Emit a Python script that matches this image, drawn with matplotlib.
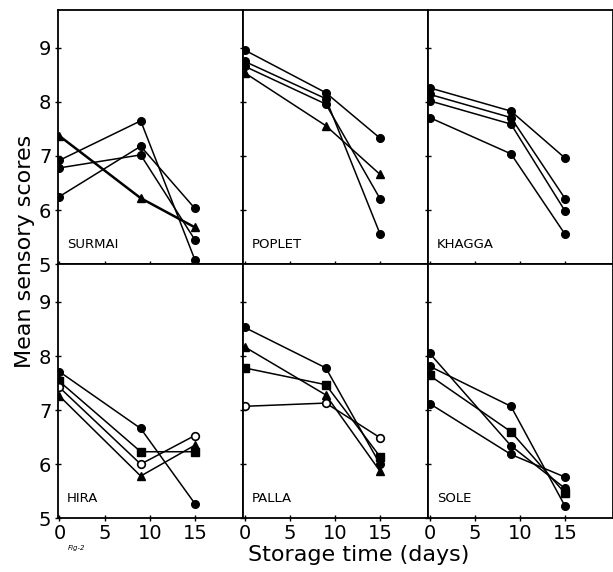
import matplotlib.pyplot as plt

days = [0, 9, 15]

# sensory scores per species, one row per series (day 0, 9, 15)
surmai = [[7.37, 6.22, 5.68], [6.92, 7.65, 5.08], [6.78, 7.02, 5.45], [6.25, 7.18, 6.03]]
poplet = [[8.96, 8.17, 7.33], [8.75, 8.06, 5.56], [8.66, 7.96, 6.21], [8.54, 7.56, 6.66]]
khagga = [[8.26, 7.83, 6.96], [8.14, 7.71, 6.21], [8.02, 7.59, 5.98], [7.71, 7.04, 5.55]]
hira = [[7.71, 6.66, 5.27], [7.26, 5.78, 6.35], [7.53, 6.23, 6.23], [7.42, 6.00, 6.53]]
palla = [[8.53, 7.78, 6.00], [8.17, 7.28, 5.87], [7.78, 7.47, 6.14], [7.07, 7.13, 6.49]]
sole = [[7.81, 7.07, 5.22], [8.05, 6.34, 5.55], [7.64, 6.60, 5.46], [7.12, 6.18, 5.76]]

names = ['SURMAI', 'POPLET', 'KHAGGA', 'HIRA', 'PALLA', 'SOLE']
panels = [surmai, poplet, khagga, hira, palla, sole]

yticks = [5, 6, 7, 8, 9]
xticks = [0, 5, 10, 15]

# marker per series for each panel; 'w' = open circle
marks = [
    ['^', 'o', 'o', 'o'],
    ['o', 'o', 'o', '^'],
    ['o', 'o', 'o', 'o'],
    ['o', '^', 's', 'w'],
    ['o', '^', 's', 'w'],
    ['o', 'o', 's', 'o'],
]

fig, axs = plt.subplots(2, 3, figsize=(6.13, 5.72), dpi=100, sharex=True, sharey=True)
fig.subplots_adjust(left=0.094, right=1.0, top=0.9825, bottom=0.094, wspace=0, hspace=0)

for idx, ax in enumerate(axs.flat):
    for k, series in enumerate(panels[idx]):
        lw = 1.8 if (idx == 0 and k == 0) else 1.1
        m = marks[idx][k]
        if m == 'w':
            ax.plot(days, series, color='black', lw=lw, marker='o', ms=5.5,
                    mfc='white', mec='black', mew=1.2)
        else:
            ax.plot(days, series, color='black', lw=lw, marker=m, ms=5.5,
                    mfc='black', mec='black')
    ax.text(0.8, 5.3, names[idx], fontsize=9.5, color='black')
    ax.set_xlim(-0.2, 20.3)
    ax.set_ylim(5, 9.7)
    ax.set_xticks(xticks)
    ax.set_yticks(yticks)
    ax.tick_params(direction='inout', length=5, width=1, labelsize=14, pad=2)
    for s in ax.spines.values():
        s.set_linewidth(1.3)

for ax in axs[0, :]:
    ax.tick_params(labelbottom=False)
for ax in axs[1, :]:
    ax.set_xticklabels(['0', '5', '10', '15'])
for ax in axs[:, 1:].flat:
    ax.tick_params(labelleft=False)

fig.text(0.04, 0.56, 'Mean sensory scores', rotation=90, ha='center', va='center', fontsize=16)
fig.text(0.585, 0.03, 'Storage time (days)', ha='center', va='center', fontsize=16)
fig.text(0.11, 0.038, 'Fig-2', fontsize=5, style='italic')

plt.savefig('out.png')
